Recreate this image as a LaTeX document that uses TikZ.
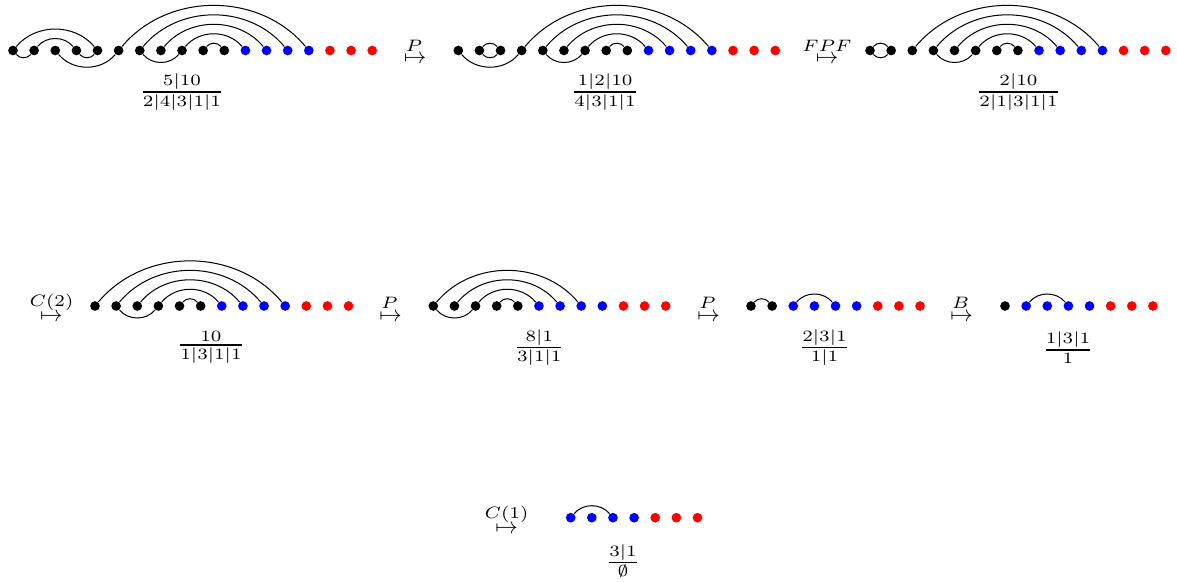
\documentclass[tikz,border=0pt]{standalone}
\usepackage{amsmath}
\usepackage{graphicx}
\newcommand\fr[2]{\scalebox{1.18}[1.0]{$\genfrac{}{}{0.75pt}{1}{#1}{#2}$}}
\newcommand\lb[1]{$\stackrel{\scalebox{1.18}[1.05]{$\scriptstyle #1$}}{\mapsto}$}
\begin{document}
\begin{tikzpicture}[x=0.4444pt,y=0.4444pt,
  dotn/.style={circle,inner sep=0pt,minimum size=4.3pt,draw=none},
  up/.style={out=50,in=130,looseness=1},
  dn/.style={out=-50,in=-130,looseness=1},
  arcl/.style={line width=0.45pt},
  lab/.style={anchor=base,inner sep=0pt},
  frac/.style={inner sep=0pt}]
\useasboundingbox (0,0) rectangle (1177,581);
\newcommand\mkrow[6]{%
  \pgfmathtruncatemacro\mynb{#4}%
  \pgfmathtruncatemacro\mynbl{#4+#5}%
  \pgfmathtruncatemacro\myntot{#4+#5+#6}%
  \foreach \i in {1,...,\myntot} {%
    \ifnum\i>\mynbl\relax\def\mycol{red}\else\ifnum\i>\mynb\relax\def\mycol{blue}\else\def\mycol{black}\fi\fi
    \node[dotn,fill=\mycol] (#1\i) at ({#2+(\i-1)*21.13},#3) {};
  }%
}
% row 1
\mkrow{a}{13}{530.5}{11}{4}{3}
\mkrow{b}{458.3}{530.5}{9}{4}{3}
\mkrow{c}{870}{530.5}{8}{4}{3}
% row 2
\mkrow{d}{95}{275}{6}{4}{3}
\mkrow{e}{433.3}{275}{5}{4}{3}
\mkrow{f}{751}{275}{2}{4}{3}
\mkrow{g}{1005}{275}{1}{4}{3}
% row 3
\mkrow{h}{570.7}{63.3}{0}{4}{3}

\begin{scope}[arcl]
% D1
\draw (a1) to[up] (a5); \draw (a2) to[up] (a4);
\draw (a6) to[up] (a15); \draw (a7) to[up] (a14); \draw (a8) to[up] (a13);
\draw (a9) to[up] (a12); \draw (a10) to[up] (a11);
\draw (a1) to[dn] (a2); \draw (a4) to[dn] (a5); \draw (a3) to[dn] (a6); \draw (a7) to[dn] (a9);
% D2
\draw (b1) to[dn] (b4); \draw (b2) to[dn] (b3); \draw (b5) to[dn] (b7);
\draw (b2) to[up] (b3); \draw (b4) to[up] (b13); \draw (b5) to[up] (b12);
\draw (b6) to[up] (b11); \draw (b7) to[up] (b10); \draw (b8) to[up] (b9);
% D3
\draw (c1) to[up] (c2); \draw (c3) to[up] (c12); \draw (c4) to[up] (c11);
\draw (c5) to[up] (c10); \draw (c6) to[up] (c9); \draw (c7) to[up] (c8);
\draw (c1) to[dn] (c2); \draw (c4) to[dn] (c6);
% D4
\draw (d1) to[up] (d10); \draw (d2) to[up] (d9); \draw (d3) to[up] (d8);
\draw (d4) to[up] (d7); \draw (d5) to[up] (d6); \draw (d2) to[dn] (d4);
% D5
\draw (e1) to[up] (e8); \draw (e2) to[up] (e7); \draw (e3) to[up] (e6);
\draw (e4) to[up] (e5); \draw (e1) to[dn] (e3);
% D6
\draw (f1) to[up] (f2); \draw (f3) to[up] (f5);
% D7
\draw (g2) to[up] (g4);
% D8
\draw (h1) to[up] (h3);
\end{scope}

% fractions
\node[frac] (fa) at (182,489) {\fr{5|10}{2|4|3|1|1}};
\node[frac] (fb) at (605,489) {\fr{1|2|10}{4|3|1|1}};
\node[frac] (fc) at (1018.5,489) {\fr{2|10}{2|1|3|1|1}};
\node[frac] (fd) at (211,233.5) {\fr{10}{1|3|1|1}};
\node[frac] (fe) at (539.3,233.5) {\fr{8|1}{3|1|1}};
\node[frac] (ff) at (824.5,233.5) {\fr{2|3|1}{1|1}};
\node[frac] (fg) at (1068,233.5) {\fr{1|3|1}{1}};
\node[frac] (fh) at (623,20) {\fr{3|1}{\emptyset}};

% arrow labels
\node[lab] (m1) at (415,517) {\lb{P}};
\node[lab] (m2) at (827,517) {\lb{FPF}};
\node[lab] (m3) at (51.5,259.4) {\lb{C(2)}};
\node[lab] (m4) at (390.5,259.4) {\lb{P}};
\node[lab] (m5) at (708.5,259.4) {\lb{P}};
\node[lab] (m6) at (961.5,259.4) {\lb{B}};
\node[lab] (m7) at (506.5,47.7) {\lb{C(1)}};
\end{tikzpicture}
\end{document}
